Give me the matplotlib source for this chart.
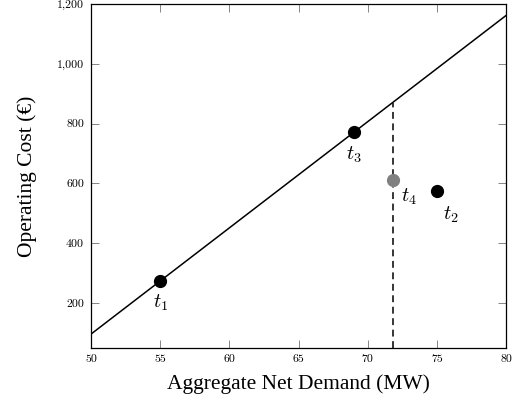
import matplotlib
matplotlib.use("Agg")
import matplotlib.pyplot as plt
from matplotlib.ticker import FuncFormatter

# Data
line_x = [50, 80]
line_y = [96.5, 1161.5]
point_names = ["$t_1$", "$t_2$", "$t_3$", "$t_4$"]
point_x = [55, 75, 69, 71.8]
point_y = [274, 574, 771, 610]
point_colors = ["black", "black", "black", "#808080"]
label_offsets = [(0, -16), (10, -17), (0, -16), (12, -12)]
x_ticks = [50, 55, 60, 65, 70, 75, 80]
y_ticks = [200, 400, 600, 800, 1000, 1200]
dash_x = 71.8

plt.rcParams['mathtext.fontset'] = 'cm'

fig = plt.figure(figsize=(5.14, 4.03), dpi=100)
ax = fig.add_axes([91/514, (403-348)/403, (506-91)/514, (348-4)/403])

ax.plot(line_x, line_y, color="black", lw=1.1, zorder=2)
# dashed vertical line from bottom to the line
slope = (line_y[1]-line_y[0])/(line_x[1]-line_x[0])
y_on_line = line_y[0] + slope*(dash_x-line_x[0])
ax.plot([dash_x, dash_x], [50, y_on_line], color="black", lw=1.1,
        ls=(0, (4.5, 3)), zorder=2)

for name, x, y, c, off in zip(point_names, point_x, point_y, point_colors, label_offsets):
    ax.plot([x], [y], 'o', color=c, ms=8.5, zorder=3)
    ax.annotate(name, (x, y), xytext=off, textcoords="offset points",
                ha="center", va="center", fontsize=14.5)

ax.set_xlim(50, 80)
ax.set_ylim(50, 1200)
ax.set_xticks(x_ticks)
ax.set_yticks(y_ticks)
ax.yaxis.set_major_formatter(FuncFormatter(lambda v, p: f"{int(v):,}"))
ax.tick_params(direction="in", length=6, width=0.5, color="#555555",
               top=True, right=True, labelsize=8.5, pad=5)
for lab in ax.get_xticklabels() + ax.get_yticklabels():
    lab.set_fontfamily("cmr10")
for s in ax.spines.values():
    s.set_linewidth(0.9)

ax.set_xlabel("Aggregate Net Demand (MW)", fontfamily="Liberation Serif",
              fontsize=15.5, labelpad=7)
ax.set_ylabel("Operating Cost (€)", fontfamily="Liberation Serif",
              fontsize=15.5, labelpad=14)

fig.savefig("out.png", dpi=100)
